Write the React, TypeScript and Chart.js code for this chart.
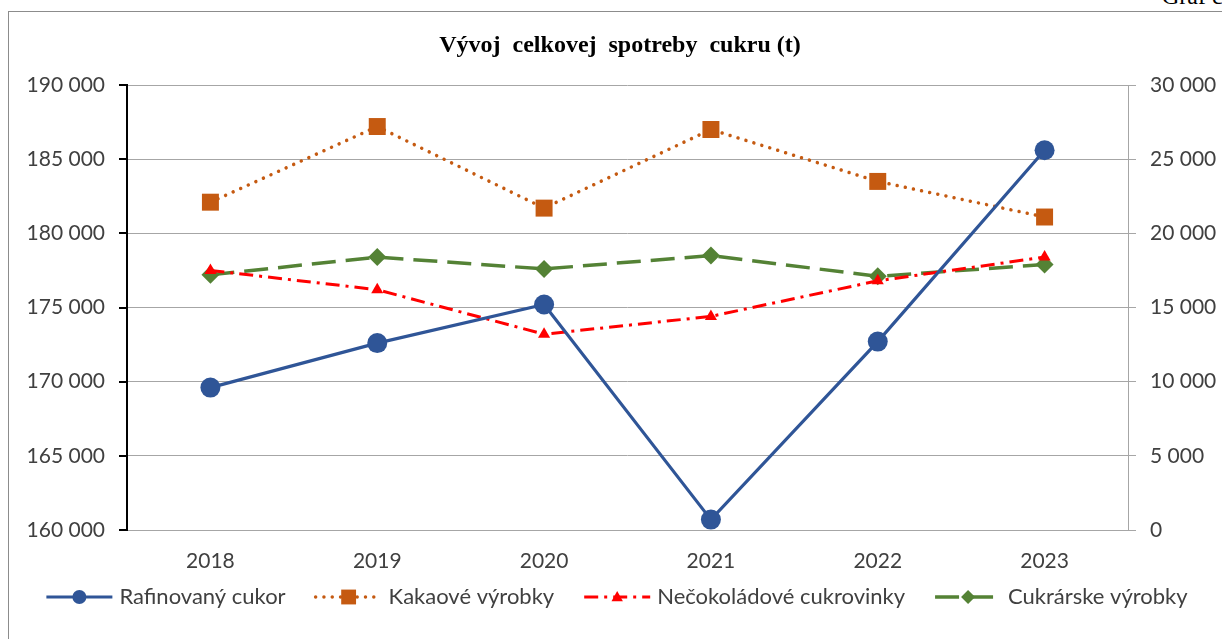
import React, { useEffect, useRef } from 'react';
import { Chart, registerables } from 'chart.js';

Chart.register(...registerables);

const years = ['2018', '2019', '2020', '2021', '2022', '2023'];
const rafinovanyCukor = [169600, 172600, 175200, 160700, 172700, 185600];
const kakaoveVyrobky = [22100, 27200, 21700, 27000, 23500, 21100];
const necokoladoveCukrovinky = [17500, 16200, 13200, 14400, 16800, 18400];
const cukrarskeVyrobky = [17200, 18400, 17600, 18500, 17100, 17900];
const seriesLabels = ['Rafinovaný cukor', 'Kakaové výrobky', 'Nečokoládové cukrovinky', 'Cukrárske výrobky'];
const leftAxisRange = [160000, 190000, 5000];
const rightAxisRange = [0, 30000, 5000];
const titleText = 'Vývoj  celkovej  spotreby  cukru (t)';
const pageNote = 'Graf č. 1';

const TICK_FONT = { family: 'Lato', size: 21 };
const TEXT_COLOR = '#404040';

const fmt = (v: number) => Math.round(v).toString().replace(/\B(?=(\d{3})+(?!\d))/g, ' ');

function drawMarker(ctx: CanvasRenderingContext2D, style: string, x: number, y: number, r: number, color: string) {
  ctx.save();
  ctx.fillStyle = color;
  ctx.beginPath();
  if (style === 'circle') {
    ctx.arc(x, y, r, 0, Math.PI * 2);
  } else if (style === 'rect') {
    const s = r * Math.SQRT1_2;
    ctx.rect(x - s, y - s, 2 * s, 2 * s);
  } else if (style === 'triangle') {
    ctx.moveTo(x, y - r);
    ctx.lineTo(x + r * 0.95, y + r * 0.7);
    ctx.lineTo(x - r * 0.95, y + r * 0.7);
    ctx.closePath();
  } else if (style === 'rectRot') {
    ctx.moveTo(x, y - r);
    ctx.lineTo(x + r, y);
    ctx.lineTo(x, y + r);
    ctx.lineTo(x - r, y);
    ctx.closePath();
  }
  ctx.fill();
  ctx.restore();
}

const titlePlugin = {
  id: 'customTitle',
  afterDraw(chart: any) {
    const ctx = chart.ctx as CanvasRenderingContext2D;
    ctx.save();
    ctx.font = 'bold 24px "Liberation Serif"';
    ctx.fillStyle = '#000';
    ctx.textAlign = 'center';
    ctx.textBaseline = 'alphabetic';
    ctx.fillText(titleText, 620, 52);
    ctx.restore();
  },
};

const legendPlugin = {
  id: 'customLegend',
  afterDraw(chart: any) {
    const ctx = chart.ctx as CanvasRenderingContext2D;
    ctx.save();
    ctx.font = '22px Lato';
    const ds = chart.data.datasets;
    const half = 33;
    const textOff = 40;
    const gap = 30;
    const widths = ds.map((d: any) => ctx.measureText(d.label).width);
    const total = widths.reduce((a: number, w: number) => a + half + textOff + w, 0) + gap * (ds.length - 1);
    let x = 617 - total / 2;
    const y = 597;
    ds.forEach((d: any, i: number) => {
      const cx = x + half;
      ctx.save();
      ctx.strokeStyle = d.borderColor;
      ctx.lineWidth = d.borderWidth;
      ctx.lineCap = d.borderCapStyle || 'butt';
      ctx.setLineDash(d.borderDash || []);
      ctx.beginPath();
      ctx.moveTo(cx - half, y);
      ctx.lineTo(cx + half, y);
      ctx.stroke();
      ctx.restore();
      drawMarker(ctx, d.pointStyle, cx, y, d.legendRadius, d.borderColor);
      ctx.fillStyle = TEXT_COLOR;
      ctx.textAlign = 'left';
      ctx.textBaseline = 'middle';
      ctx.fillText(d.label, cx + textOff, y);
      x = cx + textOff + widths[i] + gap;
    });
    ctx.restore();
  },
};

export default function App() {
  const ref = useRef<HTMLCanvasElement>(null);

  useEffect(() => {
    if (!ref.current) return;
    const chart = new Chart(ref.current, {
      type: 'line',
      data: {
        labels: years,
        datasets: [
          {
            label: seriesLabels[0],
            data: rafinovanyCukor,
            yAxisID: 'y',
            borderColor: '#2F5597',
            backgroundColor: '#2F5597',
            borderWidth: 3.2,
            pointStyle: 'circle',
            pointRadius: 10,
            pointBorderWidth: 0,
            legendRadius: 7,
          } as any,
          {
            label: seriesLabels[1],
            data: kakaoveVyrobky,
            yAxisID: 'y1',
            borderColor: '#C55A11',
            backgroundColor: '#C55A11',
            borderWidth: 3.5,
            borderDash: [0.01, 8.3],
            borderCapStyle: 'round',
            pointStyle: 'rect',
            pointRadius: 12,
            pointBorderWidth: 0,
            legendRadius: 10.5,
          } as any,
          {
            label: seriesLabels[2],
            data: necokoladoveCukrovinky,
            yAxisID: 'y1',
            borderColor: '#FF0000',
            backgroundColor: '#FF0000',
            borderWidth: 3,
            borderDash: [14, 6, 3, 6],
            pointStyle: 'triangle',
            pointRadius: 7,
            pointBorderWidth: 0,
            legendRadius: 6,
          } as any,
          {
            label: seriesLabels[3],
            data: cukrarskeVyrobky,
            yAxisID: 'y1',
            borderColor: '#548235',
            backgroundColor: '#548235',
            borderWidth: 3.5,
            borderDash: [24, 10],
            pointStyle: 'rectRot',
            pointRadius: 9,
            pointBorderWidth: 0,
            legendRadius: 7,
          } as any,
        ],
      },
      options: {
        responsive: false,
        animation: false,
        devicePixelRatio: 1,
        layout: { padding: { top: 85, left: 0, right: 0, bottom: 0 } },
        plugins: {
          legend: { display: false },
          title: { display: false },
          tooltip: { enabled: false },
        },
        scales: {
          x: {
            type: 'category',
            offset: true,
            grid: { display: false },
            border: { display: true, color: '#a6a6a6', width: 1 },
            ticks: { font: TICK_FONT, color: TEXT_COLOR, padding: 11, maxRotation: 0 },
            afterFit(s: any) {
              s.height = 109;
            },
          },
          y: {
            position: 'left',
            min: leftAxisRange[0],
            max: leftAxisRange[1],
            ticks: { stepSize: leftAxisRange[2], callback: (v: any) => fmt(Number(v)), font: TICK_FONT, color: TEXT_COLOR, padding: 14 },
            grid: { drawOnChartArea: false, color: '#000', lineWidth: 2, tickLength: 8 },
            border: { color: '#000', width: 2 },
            afterFit(s: any) {
              s.width = 127;
            },
          },
          y1: {
            position: 'right',
            min: rightAxisRange[0],
            max: rightAxisRange[1],
            ticks: { stepSize: rightAxisRange[2], callback: (v: any) => fmt(Number(v)), font: TICK_FONT, color: TEXT_COLOR, padding: 14 },
            grid: { color: '#a6a6a6', lineWidth: 1, tickLength: 8 },
            border: { color: '#a6a6a6', width: 1 },
            afterFit(s: any) {
              s.width = 94;
            },
          },
        },
      },
      plugins: [titlePlugin, legendPlugin],
    });
    return () => chart.destroy();
  }, []);

  return (
    <div style={{ position: 'fixed', left: 0, top: 0, width: 1222, height: 639, overflow: 'hidden', background: '#fff' }}>
      <div
        style={{
          position: 'absolute',
          left: 1162,
          top: -16,
          fontFamily: '"Liberation Serif", serif',
          fontSize: 24,
          lineHeight: '24px',
          whiteSpace: 'nowrap',
          color: '#000',
        }}
      >
        {pageNote}
      </div>
      <div
        style={{
          position: 'absolute',
          left: 8,
          top: 11,
          width: 1400,
          height: 800,
          borderLeft: '1px solid #8c8c8c',
          borderTop: '1px solid #8c8c8c',
        }}
      />
      <canvas ref={ref} width={1222} height={639} style={{ position: 'absolute', left: 0, top: 0, width: 1222, height: 639 }} />
    </div>
  );
}
